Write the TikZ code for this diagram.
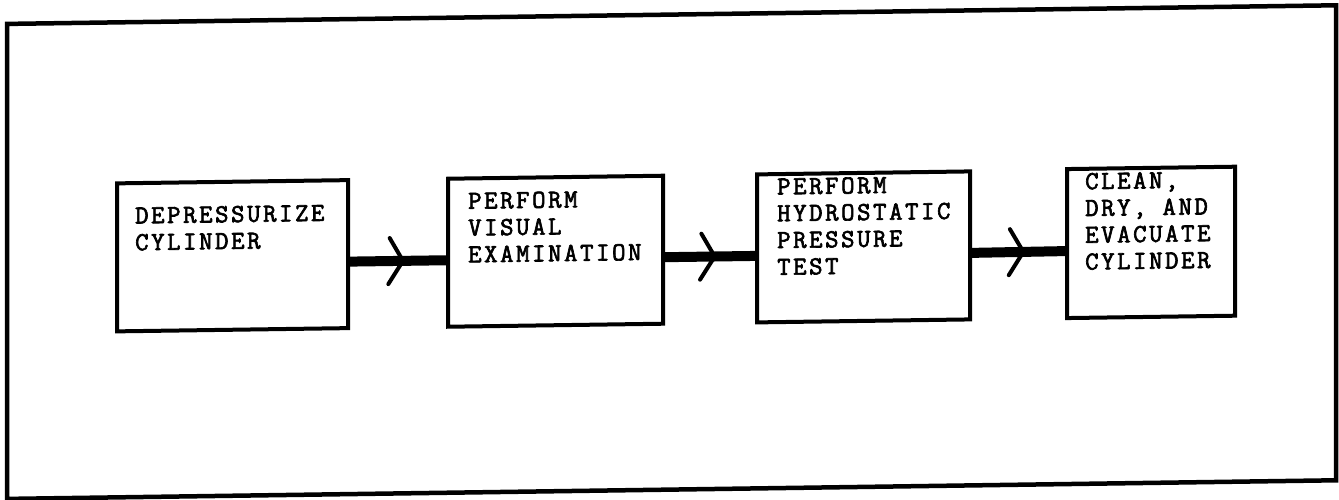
\documentclass[tikz,border=0pt]{standalone}
\usepackage{fontspec}
\newfontfamily\typer[LetterSpace=10, FakeBold=2.5]{Latin Modern Mono}
\usetikzlibrary{decorations.markings}
\tikzset{
  frame/.style={line width=4.5pt},
  box/.style={draw, line width=4pt, inner sep=0pt, outer sep=0pt, transform shape},
  lbl/.style={anchor=north west, inner sep=0pt, align=left, transform shape,
    font=\typer\fontsize{26}{26.8}\selectfont},
  conn/.style={line width=10pt, postaction={decorate},
    decoration={markings, mark=at position 0.55 with {
      \draw[line width=4pt, line cap=round, line join=round] (-13pt,23pt) -- (0pt,0pt) -- (-15pt,-23pt);}}},
}
\begin{document}
\begin{tikzpicture}[x=1pt,y=-1pt]
\useasboundingbox (0,0) rectangle (1339,499);
\begin{scope}[yslant=0.014]
  \draw[frame] (7,24) rectangle (1336,499);
  \node[box, minimum width=231pt, minimum height=148pt] (b1) at (232.5,259) {};
  \node[box, minimum width=215pt, minimum height=148pt] (b2) at (555.5,259) {};
  \node[box, minimum width=213pt, minimum height=148pt] (b3) at (863.5,259) {};
  \node[box, minimum width=168pt, minimum height=149pt] (b4) at (1151,258.5) {};
  \node[lbl] (t1) at (135,209) {DEPRESSURIZE\\CYLINDER};
  \node[lbl] (t2) at (468,199) {PERFORM\\VISUAL\\EXAMINATION};
  \node[lbl] (t3) at (777,189) {PERFORM\\HYDROSTATIC\\PRESSURE\\TEST};
  \node[lbl] (t4) at (1085,188) {CLEAN,\\DRY, AND\\EVACUATE\\CYLINDER};
  \draw[conn] ([yshift=-7.5pt]b1.east) -- ([yshift=-7.5pt]b2.west);
  \draw[conn] ([yshift=-7.5pt]b2.east) -- ([yshift=-7.5pt]b3.west);
  \draw[conn] ([yshift=-7.5pt]b3.east) -- ([yshift=-7.5pt]b4.west);
\end{scope}
\end{tikzpicture}
\end{document}
